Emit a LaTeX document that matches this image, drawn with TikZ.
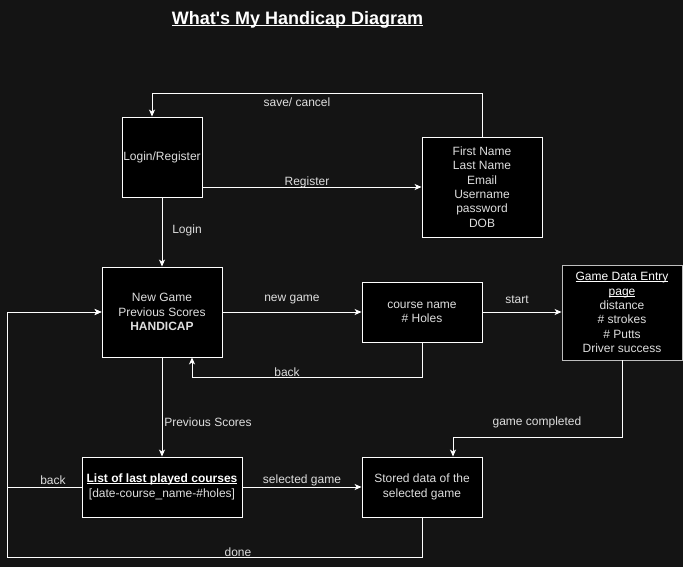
\documentclass[tikz,border=0pt]{standalone}
\usepackage{fontspec}
\setmainfont{Liberation Sans}
\usetikzlibrary{arrows.meta}
\definecolor{bg}{RGB}{20,20,20}
\definecolor{txt}{RGB}{222,222,222}
\definecolor{gdeborder}{RGB}{190,190,190}
\newcommand\myul[2][0.8pt]{\leavevmode\setbox0\hbox{#2}\rlap{\rule[-1.3pt]{\wd0}{#1}}\box0}
\tikzset{
  box/.style={draw=white, fill=black, line width=0.9pt, inner sep=0pt, align=center,
    text=txt, font=\fontsize{12}{14.3}\selectfont},
  conn/.style={draw=white, line width=0.9pt},
  arr/.style={conn, -{Stealth[length=7pt,width=6pt,inset=2pt]}},
  lbl/.style={text=txt, font=\fontsize{12}{14.3}\selectfont, inner sep=0pt}
}
\begin{document}
\begin{tikzpicture}[x=1pt,y=-1pt]
\fill[bg] (0,0) rectangle (683,567);
\useasboundingbox (0,0) rectangle (683,567);

\node[text=white, font=\bfseries\fontsize{18}{20}\selectfont, inner sep=0pt] (title) at (297.5,20) {\myul[1.1pt]{What\textquotesingle s My Handicap Diagram}};

\node[box, minimum width=80pt, minimum height=80pt] (login) at (162,157) {Login/Register};
\node[box, minimum width=120pt, minimum height=100pt] (form) at (482,187) {First Name\\Last Name\\Email\\Username\\password\\DOB};
\node[box, minimum width=120pt, minimum height=90pt] (main) at (162,312) {New Game\\Previous Scores\\\textbf{HANDICAP}};
\node[box, minimum width=120pt, minimum height=60pt] (course) at (422,312) {course name\\\# Holes};
\node[box, draw=gdeborder, minimum width=120pt, minimum height=95pt] (gde) at (622,312.5) {\textcolor{white}{\myul{Game Data Entry}}\\\textcolor{white}{\myul{page}}\\distance\\\# strokes\\\# Putts\\Driver success};
\node[box, minimum width=160pt, minimum height=60pt] (list) at (162,487) {\textcolor{white}{\myul{\bfseries List of last played courses}}\\{[}date-course\_name-\#holes{]}};
\node[box, minimum width=120pt, minimum height=60pt] (stored) at (422,487) {Stored data of the\\selected game};

\coordinate (sc1) at (482,93);
\coordinate (sc2) at (152,93);
\coordinate (bk1) at (422,377);
\coordinate (bk2) at (192,377);
\coordinate (gc1) at (622,437);
\coordinate (gc2) at (453,437);
\coordinate (lb1) at (7,487);
\coordinate (lb2) at (7,312);
\coordinate (dn1) at (422,557);
\coordinate (dn2) at (7,557);

\draw[arr] (form.north) -- (sc1) -- (sc2) -- (login.north -| sc2);
\draw[arr] (login.east |- form.west) -- (form.west);
\draw[arr] (login.south) -- (main.north);
\draw[arr] (main.east) -- (course.west);
\draw[arr] (course.south) -- (bk1) -- (bk2) -- (main.south -| bk2);
\draw[arr] (course.east) -- (gde.west |- course.east);
\draw[arr] (gde.south) -- (gc1) -- (gc2) -- (stored.north -| gc2);
\draw[arr] (main.south) -- (list.north);
\draw[arr] (list.east) -- (stored.west);
\draw[arr] (list.west) -- (lb1) -- (lb2) -- (main.west);
\draw[arr] (stored.south) -- (dn1) -- (dn2) -- (lb2) -- (main.west);

\node[lbl] (l1) at (297,102) {save/ cancel};
\node[lbl] (l2) at (307,182) {Register};
\node[lbl] (l3) at (187,230) {Login};
\node[lbl] (l4) at (292,300) {new game};
\node[lbl] (l5) at (287,372) {back};
\node[lbl] (l6) at (517,300) {start};
\node[lbl] (l7) at (537,422) {game completed};
\node[lbl] (l8) at (208,422) {Previous Scores};
\node[lbl] (l9) at (302,480) {selected game};
\node[lbl] (l10) at (53,480) {back};
\node[lbl] (l11) at (238,552) {done};
\end{tikzpicture}
\end{document}
